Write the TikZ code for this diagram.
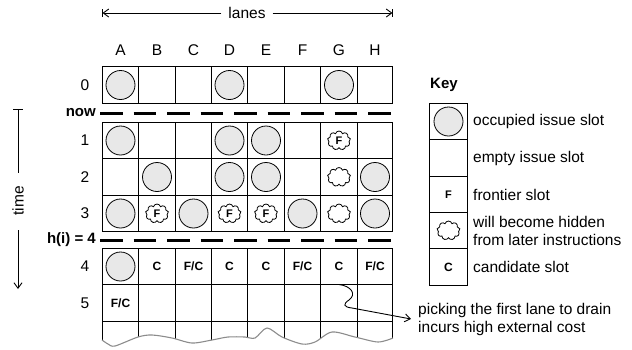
\documentclass[tikz,border=0pt]{standalone}
\usepackage{fontspec}
\setmainfont{Liberation Sans}
\usetikzlibrary{arrows.meta,shapes.symbols}
\begin{document}
\begin{tikzpicture}[x=1pt,y=-1pt,
  lbl/.style={font=\fontsize{15.5}{18}\selectfont, inner sep=0pt},
  blbl/.style={font=\fontsize{15}{18}\selectfont\bfseries, inner sep=0pt},
  cell/.style={minimum width=36pt, minimum height=36pt, inner sep=0pt, outer sep=0pt},
  gridl/.style={line width=1.2pt, line cap=rect},
  occ/.style={circle, draw, line width=0.8pt, fill=black!9, minimum size=29pt, inner sep=0pt},
  hid/.style={cloud, cloud puffs=9, cloud ignores aspect, draw, line width=0.8pt, minimum width=23pt, minimum height=19pt, inner sep=0pt, font=\fontsize{11}{12}\selectfont\bfseries},
  cmark/.style={font=\fontsize{12}{14}\selectfont\bfseries, inner sep=0pt},
  sepline/.style={line width=3pt, dash pattern=on 22.5pt off 11pt},
  tip/.style={-{Straight Barb[length=5.5pt,width=8pt]}},
  thin/.style={line width=0.9pt}
]
\useasboundingbox (0,0) rectangle (632,349);

% lanes arrow
\node[lbl] (lanes) at (247,13) {lanes};
\coordinate (l0) at (102.5,13);
\coordinate (l1) at (392.5,13);
\draw[thin,tip] ([xshift=-7pt]lanes.west) -- (l0);
\draw[thin,tip] ([xshift=7pt]lanes.east) -- (l1);
\draw[thin] ([yshift=4pt]l0) -- ([yshift=-4pt]l0);
\draw[thin] ([yshift=4pt]l1) -- ([yshift=-4pt]l1);

% column labels and cell anchors
\foreach \col/\x in {A/120.5,B/157,C/193.5,D/229.5,E/266,F/302.5,G/339,H/375}
  \node[lbl] (lab\col) at (\x,50) {\col};
\foreach \r/\y in {0/85,1/140.5,2/177,3/213.5,4/266.5,5/303} {
  \node[lbl] (row\r) at (85,\y) {\r};
  \foreach \col/\x in {A/120.5,B/157,C/193.5,D/229.5,E/266,F/302.5,G/339,H/375}
    \node[cell] (\col\r) at (\x,\y) {};
}

% grid lines
\foreach \x in {102.5,138.5,175.5,211.5,247.5,284.5,320.5,357.5,392.5} {
  \draw[gridl] (\x,66.5) -- (\x,103.5);
  \draw[gridl] (\x,122.5) -- (\x,231.5);
  \draw[gridl] (\x,248.5) -- (\x,321.5);
}
\foreach \y in {66.5,103.5,122.5,158.5,195.5,231.5,248.5,284.5,321.5}
  \draw[gridl] (102.5,\y) -- (392.5,\y);

% wavy tail
\begin{scope}
\clip (90,318) -- (90,340) -- plot[smooth] coordinates {(102,340) (108,344) (115,346) (138,337) (152,335) (172,338) (192,343) (212,340) (228,337) (245,337) (255,338) (267,328) (282,337) (302,344) (315,342) (332,332) (355,337) (378,342) (393,338)} -- (400,338) -- (400,318) -- cycle;
\foreach \x in {102.5,138.5,175.5,211.5,247.5,284.5,320.5,357.5,392.5}
  \draw[line width=1.2pt] (\x,320) -- (\x,352);
\end{scope}
\draw[line width=1.1pt, black!45] plot[smooth] coordinates {(102,340) (108,344) (115,346) (138,337) (152,335) (172,338) (192,343) (212,340) (228,337) (245,337) (255,338) (267,328) (282,337) (302,344) (315,342) (332,332) (355,337) (378,342) (393,338)};

% contents
\foreach \p in {A0,D0,G0,A1,D1,E1,B2,D2,E2,H2,A3,C3,F3,H3,A4}
  \node[occ] (o\p) at (\p) {};
\foreach \p in {G1,B3,D3,E3}
  \node[hid] (h\p) at (\p) {F};
\foreach \p in {G2,G3}
  \node[hid] (h\p) at (\p) {};
\node[cmark] (mB4) at (B4) {C};
\node[cmark] (mC4) at (C4) {F/C};
\node[cmark] (mD4) at (D4) {C};
\node[cmark] (mE4) at (E4) {C};
\node[cmark] (mF4) at (F4) {F/C};
\node[cmark] (mG4) at (G4) {C};
\node[cmark] (mH4) at (H4) {F/C};
\node[cmark] (mA5) at (A5) {F/C};

% separators
\node[blbl, anchor=east] (now) at (96,113) {now};
\coordinate (n1) at (392,113);
\draw[sepline] ([xshift=4pt]now.east) -- (n1);
\node[blbl, anchor=east] (hi) at (96,240) {h(i) = 4};
\coordinate (h1) at (392,240);
\draw[sepline] ([xshift=4pt]hi.east) -- (h1);

% time arrow
\node[lbl, rotate=90] (time) at (18,201) {time};
\coordinate (t0) at (18,109);
\coordinate (t1) at (18,173);
\coordinate (t2) at (18,230);
\coordinate (t3) at (18,289);
\draw[thin] (t0) -- (t1);
\draw[thin] ([xshift=-5pt]t0) -- ([xshift=5pt]t0);
\draw[thin,tip] (t2) -- (t3);

% key
\node[blbl] (key) at (444,85) {Key};
\foreach \y in {103.5,139.5,176.5,212.5,248.5,285.5}
  \draw[gridl] (429.5,\y) -- (467.5,\y);
\draw[gridl] (429.5,103.5) -- (429.5,285.5);
\draw[gridl] (467.5,103.5) -- (467.5,285.5);
\foreach \k/\y in {1/121.5,2/158,3/194.5,4/230.5,5/267}
  \node[cell] (k\k) at (448.5,\y) {};
\node[occ] (ko) at (k1) {};
\node[cmark, font=\fontsize{11}{12}\selectfont\bfseries] (kf) at (k3) {F};
\node[hid] (kh) at (k4) {};
\node[cmark] (kc) at (k5) {C};
\node[lbl, anchor=west] (t1l) at (473,121.5) {occupied issue slot};
\node[lbl, anchor=west] (t2l) at (473,158) {empty issue slot};
\node[lbl, anchor=west] (t3l) at (473,194.5) {frontier slot};
\node[lbl, anchor=west, align=left] (t4l) at (473,231) {will become hidden\\from later instructions};
\node[lbl, anchor=west] (t5l) at (473,267) {candidate slot};

% annotation
\node[lbl, anchor=west, align=left] (note) at (418,319) {picking the first lane to drain\\incurs high external cost};
\draw[thin,tip] (G4.south) .. controls (351,286) and (357,294) .. (349,300) .. controls (343,304) and (343,307) .. (352,308) -- ([xshift=-7pt]note.west);
\end{tikzpicture}
\end{document}
